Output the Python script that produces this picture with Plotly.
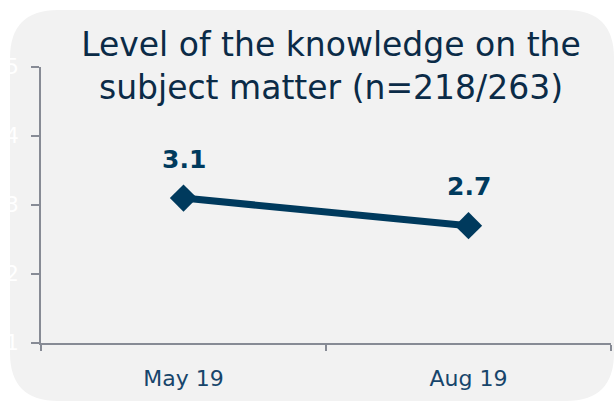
import plotly.graph_objects as go

# Survey results: average self-rated knowledge level (scale 1-5)
periods = ["May 19", "Aug 19"]
scores = [3.1, 2.7]
y_ticks = [1, 2, 3, 4, 5]

W, H = 616, 404
L, R, T, B = 41, 5, 67, 61
pw, ph = W - L - R, H - T - B

NAVY = "#003A5D"
TITLE = "#0B2B47"
AXIS = "#878B95"


def px(x):
    return (x - L) / pw


def py(y):
    return (H - B - y) / ph


# Rounded grey panel behind the chart (paper coordinates)
x0, y0, x1, y1, r = 10, 10, 614, 401, 48
panel = (
    f"M {px(x0 + r)},{py(y0)} L {px(x1 - r)},{py(y0)} "
    f"Q {px(x1)},{py(y0)} {px(x1)},{py(y0 + r)} "
    f"L {px(x1)},{py(y1 - r)} Q {px(x1)},{py(y1)} {px(x1 - r)},{py(y1)} "
    f"L {px(x0 + r)},{py(y1)} Q {px(x0)},{py(y1)} {px(x0)},{py(y1 - r)} "
    f"L {px(x0)},{py(y0 + r)} Q {px(x0)},{py(y0)} {px(x0 + r)},{py(y0)} Z"
)

fig = go.Figure()
fig.add_trace(go.Scatter(
    x=periods, y=scores, mode="lines+markers",
    line=dict(color=NAVY, width=7),
    marker=dict(symbol="diamond", size=21, color=NAVY,
                line=dict(color=NAVY, width=0)),
    hoverinfo="skip", showlegend=False, cliponaxis=False,
))

for p, s in zip(periods, scores):
    fig.add_annotation(
        x=p, y=s, text=f"<b>{s:.1f}</b>", showarrow=False,
        yshift=39, font=dict(family="DejaVu Sans", size=25, color=NAVY),
    )

fig.add_shape(type="path", path=panel, xref="paper", yref="paper",
              fillcolor="#F2F2F2", line=dict(width=0), layer="below")

fig.update_layout(
    width=W, height=H,
    margin=dict(l=L, r=R, t=T, b=B, pad=0),
    paper_bgcolor="white", plot_bgcolor="rgba(0,0,0,0)",
    title=dict(
        text="Level of the knowledge on the<br>subject matter (n=218/263)",
        x=331 / W, xanchor="center", y=1 - 56 / H, yanchor="middle",
        font=dict(family="DejaVu Sans", size=33, color=TITLE),
    ),
    xaxis=dict(
        type="category", range=[-0.5, 1.5], showgrid=False, zeroline=False,
        showline=True, linecolor=AXIS, linewidth=2,
        ticks="outside", tickson="boundaries", ticklen=6, tickcolor=AXIS,
        tickwidth=2, ticklabelstandoff=15,
        tickfont=dict(family="DejaVu Sans", size=22, color="#17456B"),
    ),
    yaxis=dict(
        range=[1, 5], tickvals=y_ticks, showgrid=False, zeroline=False,
        showline=True, linecolor=AXIS, linewidth=2,
        ticks="outside", ticklen=8, tickcolor=AXIS, tickwidth=2,
        ticklabelstandoff=8,
        tickfont=dict(family="DejaVu Sans", size=21, color="white"),
    ),
)

fig.write_html("out.html")
